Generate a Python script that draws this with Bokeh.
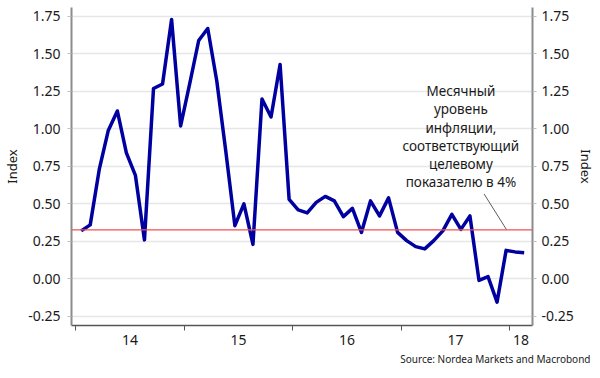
from bokeh.plotting import figure
from bokeh.models import (LinearAxis, FixedTicker, NumeralTickFormatter, Range1d,
                          Span, Title, ColumnDataSource)
from bokeh.core.properties import value
from bokeh.embed import file_html
from bokeh.resources import INLINE

# Monthly inflation index, Jan 2014 .. Feb 2018 (x = months since Jan 2014)
months = [i + 0.6 for i in range(50)]
values = [0.32, 0.36, 0.73, 0.99, 1.12, 0.84, 0.69, 0.26, 1.27, 1.30, 1.73, 1.02,
          1.30, 1.59, 1.67, 1.32, 0.85, 0.355, 0.50, 0.23, 1.20, 1.08, 1.43, 0.53,
          0.46, 0.44, 0.51, 0.55, 0.52, 0.415, 0.47, 0.31, 0.52, 0.42, 0.54, 0.31,
          0.255, 0.215, 0.20, 0.255, 0.32, 0.43, 0.33, 0.42, -0.01, 0.015, -0.155, 0.19,
          0.18, 0.175]
target = 0.327

year_starts = [0, 12, 24, 36, 48]
year_label_pos = [6, 18, 30, 42, 49.26]
year_labels = ["14", "15", "16", "17", "18"]
y_ticks = [-0.25, 0, 0.25, 0.5, 0.75, 1.0, 1.25, 1.5, 1.75]

note_lines = ["Месячный", "уровень", "инфляции,", "соответствующий", "целевому",
              "показателю в 4%"]
note_x = 42.6
note_y = [1.252, 1.131, 1.009, 0.887, 0.765, 0.644]
pointer_x = [45.16, 47.66]
pointer_y = [0.567, 0.327]

FONT = "Noto Sans"
TXT = "#1a1a1a"

p = figure(width=600, height=378, output_backend="svg", toolbar_location=None,
           x_range=Range1d(-0.47, 50.52), y_range=Range1d(-0.311, 1.81),
           min_border_left=68, min_border_right=68, min_border_top=7,
           min_border_bottom=53, y_axis_location=None)
p.outline_line_color = None
p.background_fill_color = "white"
p.border_fill_color = "white"

# grid
p.xgrid.visible = False
p.ygrid.ticker = FixedTicker(ticks=y_ticks)
p.ygrid.grid_line_color = "#e6e6e6"
p.ygrid.grid_line_width = 1.5

# x axis
xa = p.xaxis[0]
xa.ticker = FixedTicker(ticks=year_label_pos, minor_ticks=year_starts)
xa.major_label_overrides = {k: v for k, v in zip(year_label_pos, year_labels)}
xa.major_tick_out = 0
xa.major_tick_in = 0
xa.minor_tick_out = 5
xa.minor_tick_in = 0
xa.minor_tick_line_color = "#555555"
xa.axis_line_color = "#555555"
xa.axis_line_width = 1.5
xa.major_label_standoff = 4
xa.major_label_text_font = FONT
xa.major_label_text_font_size = "14px"
xa.major_label_text_color = TXT

def style_y(ax, standoff, label_standoff):
    ax.ticker = FixedTicker(ticks=y_ticks)
    ax.formatter = NumeralTickFormatter(format="0.00")
    ax.axis_line_color = "#8c8c8c"
    ax.axis_line_width = 2
    ax.major_tick_out = 4
    ax.major_tick_in = 0
    ax.major_tick_line_color = "#bdbdbd"
    ax.minor_tick_out = 0
    ax.minor_tick_in = 0
    ax.major_label_standoff = standoff
    ax.major_label_text_font = FONT
    ax.major_label_text_font_size = "14px"
    ax.major_label_text_color = TXT
    ax.axis_label = "Index"
    ax.axis_label_text_font = FONT
    ax.axis_label_text_font_size = "13px"
    ax.axis_label_text_font_style = "normal"
    ax.axis_label_text_color = TXT
    ax.axis_label_standoff = label_standoff

left = LinearAxis()
style_y(left, 7, 4)
p.add_layout(left, "left")
right = LinearAxis()
style_y(right, 5, 0)
p.add_layout(right, "right")

# target line
p.add_layout(Span(location=target, dimension="width", line_color="#f05050",
                  line_width=1.3))

# series
src = ColumnDataSource(dict(x=months, y=values))
p.line("x", "y", source=src, line_color="#0000a0", line_width=3.5,
       line_join="round")

# annotation
p.line(pointer_x, pointer_y, line_color="#333333", line_width=0.8)
p.text(x=[note_x] * len(note_lines), y=note_y, text=note_lines,
       text_font=value(FONT), text_font_size="13.5px", text_color=TXT,
       text_align="center", text_baseline="middle")

p.add_layout(Title(text="Source: Nordea Markets and Macrobond", align="right",
                   offset=-58, standoff=5, text_font=FONT, text_font_size="10px",
                   text_font_style="normal", text_color=TXT), "below")

open("out.html", "w").write(file_html(p, INLINE))
